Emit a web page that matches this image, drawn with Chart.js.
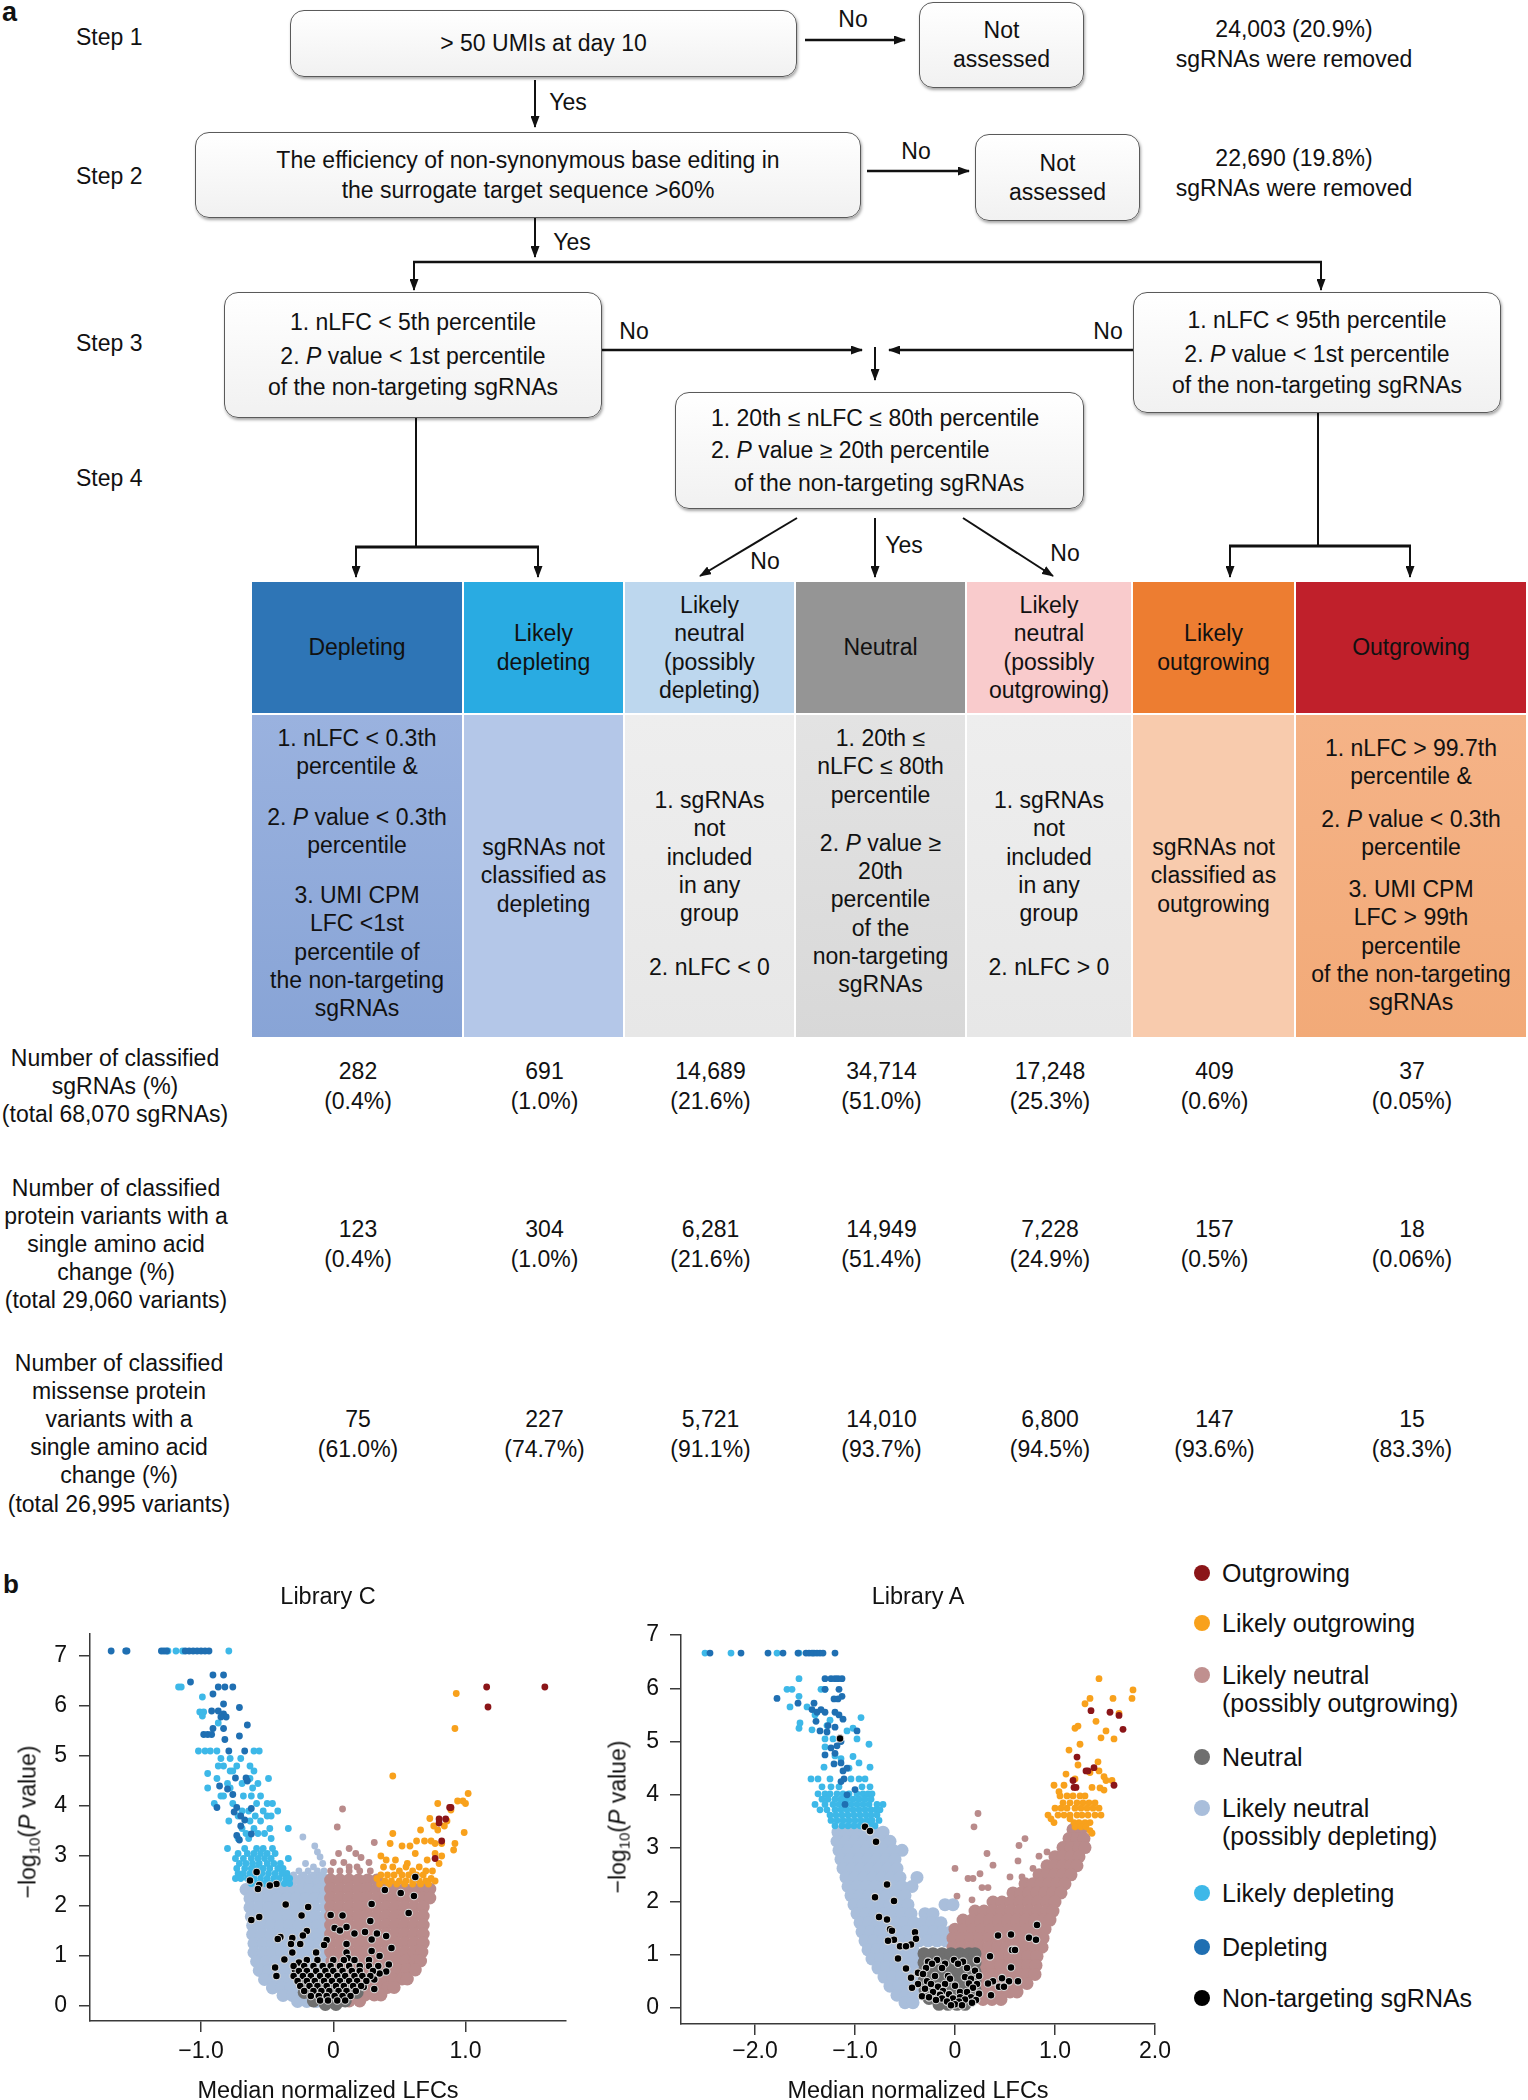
<!DOCTYPE html>
<html>
<head>
<meta charset="utf-8">
<title>sgRNA classification</title>
<script src="https://cdn.jsdelivr.net/npm/chart.js@4.4.1/dist/chart.umd.min.js"></script>
<style>
  html, body { margin: 0; padding: 0; }
  body { width: 1528px; height: 2100px; overflow: hidden; position: relative; background: #fff; color: #111;
         font-family: "Liberation Sans", Arial, Helvetica, sans-serif; }
  .c { position: absolute; transform: translate(-50%, -50%); white-space: nowrap; font-size: 23px; line-height: 28px; text-align: center; }
  .l { position: absolute; transform: translateY(-50%); white-space: nowrap; font-size: 23px; line-height: 28px; }
  .box { position: absolute; box-sizing: border-box; border: 1.5px solid #5a5a5a; border-radius: 14px;
         background: linear-gradient(#ffffff, #f1f1f1); box-shadow: 1px 2px 3px rgba(0,0,0,0.35);
         display: flex; flex-direction: column; justify-content: center; align-items: center; text-align: center;
         font-size: 23px; white-space: nowrap; }
  .panel { position: absolute; font-weight: bold; line-height: 1; }
  .hcell, .bcell { position: absolute; box-sizing: border-box; text-align: center; font-size: 23px; line-height: 28.3px; }
  .hcell { display: flex; align-items: center; justify-content: center; }
  .bcell p { margin: 0; }
  canvas { position: absolute; }
  .ytitle { position: absolute; transform: translate(-50%, -50%) rotate(-90deg); white-space: nowrap; font-size: 23px; }
  .ytitle sub { font-size: 15px; vertical-align: -4px; line-height: 0; }
  .dot { position: absolute; width: 16px; height: 16px; border-radius: 50%; transform: translate(-50%, -50%); }
  .leg { position: absolute; font-size: 25px; line-height: 28px; white-space: nowrap; }
</style>
</head>
<body>

<div class="panel" style="left:2px;top:-1px;font-size:27px">a</div>

<!-- flow chart -->
<svg width="1528" height="600" style="position:absolute;left:0;top:0">
  <defs>
    <marker id="ah" markerWidth="12" markerHeight="9" refX="11" refY="4.5" orient="auto" markerUnits="userSpaceOnUse">
      <path d="M0,0 L12,4.5 L0,9 z" fill="#111"/>
    </marker>
  </defs>
  <g stroke="#111" stroke-width="2" fill="none">
    <line x1="805" y1="40" x2="905" y2="40" stroke-width="2.5" marker-end="url(#ah)"/>
    <line x1="535" y1="80" x2="535" y2="127" marker-end="url(#ah)"/>
    <line x1="867" y1="171" x2="969" y2="171" stroke-width="2.5" marker-end="url(#ah)"/>
    <line x1="535" y1="218" x2="535" y2="257" marker-end="url(#ah)"/>
    <line x1="413" y1="262" x2="1322" y2="262" stroke-width="2.5"/>
    <line x1="414" y1="262" x2="414" y2="290" marker-end="url(#ah)"/>
    <line x1="1321" y1="262" x2="1321" y2="290" marker-end="url(#ah)"/>
    <line x1="602" y1="350" x2="862" y2="350" stroke-width="2.5" marker-end="url(#ah)"/>
    <line x1="1133" y1="350" x2="889" y2="350" stroke-width="2.5" marker-end="url(#ah)"/>
    <line x1="875" y1="347" x2="875" y2="380" marker-end="url(#ah)"/>
    <line x1="416" y1="418" x2="416" y2="547"/>
    <line x1="355" y1="547" x2="539" y2="547" stroke-width="3"/>
    <line x1="356" y1="547" x2="356" y2="577" marker-end="url(#ah)"/>
    <line x1="538" y1="547" x2="538" y2="577" marker-end="url(#ah)"/>
    <line x1="1318" y1="413" x2="1318" y2="546"/>
    <line x1="1229" y1="546" x2="1411" y2="546" stroke-width="3"/>
    <line x1="1230" y1="546" x2="1230" y2="577" marker-end="url(#ah)"/>
    <line x1="1410" y1="546" x2="1410" y2="577" marker-end="url(#ah)"/>
    <line x1="797" y1="518" x2="700" y2="576" marker-end="url(#ah)"/>
    <line x1="875" y1="518" x2="875" y2="577" marker-end="url(#ah)"/>
    <line x1="963" y1="518" x2="1053" y2="576" marker-end="url(#ah)"/>
  </g>
</svg>

<div class="l" style="left:76px;top:37px">Step 1</div>
<div class="l" style="left:76px;top:176px">Step 2</div>
<div class="l" style="left:76px;top:343px">Step 3</div>
<div class="l" style="left:76px;top:478px">Step 4</div>

<div class="box" style="left:290px;top:10px;width:507px;height:67px"><div>&gt; 50 UMIs at day 10</div></div>
<div class="box" style="left:919px;top:2px;width:165px;height:86px;line-height:29px"><div>Not</div><div>assessed</div></div>
<div class="box" style="left:195px;top:132px;width:666px;height:86px;line-height:30px"><div>The efficiency of non-synonymous base editing in</div><div>the surrogate target sequence &gt;60%</div></div>
<div class="box" style="left:975px;top:134px;width:165px;height:87px;line-height:29px"><div>Not</div><div>assessed</div></div>
<div class="box" style="left:224px;top:292px;width:378px;height:126px;line-height:31px">
  <div style="margin-bottom:3px">1. nLFC &lt; 5th percentile</div>
  <div>2. <i>P</i> value &lt; 1st percentile</div>
  <div>of the non-targeting sgRNAs</div>
</div>
<div class="box" style="left:1133px;top:292px;width:368px;height:121px;line-height:31px">
  <div style="margin-bottom:3px">1. nLFC &lt; 95th percentile</div>
  <div>2. <i>P</i> value &lt; 1st percentile</div>
  <div>of the non-targeting sgRNAs</div>
</div>
<div class="box" style="left:675px;top:392px;width:409px;height:117px;line-height:32.5px;align-items:flex-start;text-align:left;padding-left:35px">
  <div>1. 20th &le; nLFC &le; 80th percentile</div>
  <div>2. <i>P</i> value &ge; 20th percentile</div>
  <div style="padding-left:23px">of the non-targeting sgRNAs</div>
</div>

<div class="c" style="left:1294px;top:29px">24,003 (20.9%)</div>
<div class="c" style="left:1294px;top:59px">sgRNAs were removed</div>
<div class="c" style="left:1294px;top:158px">22,690 (19.8%)</div>
<div class="c" style="left:1294px;top:188px">sgRNAs were removed</div>

<div class="c" style="left:853px;top:19px">No</div>
<div class="c" style="left:568px;top:102px">Yes</div>
<div class="c" style="left:916px;top:151px">No</div>
<div class="c" style="left:572px;top:242px">Yes</div>
<div class="c" style="left:634px;top:331px">No</div>
<div class="c" style="left:1108px;top:331px">No</div>
<div class="c" style="left:765px;top:561px">No</div>
<div class="c" style="left:904px;top:545px">Yes</div>
<div class="c" style="left:1065px;top:553px">No</div>

<div id="table"></div>

<!-- panel b -->
<canvas id="libC" width="600" height="520" style="left:0px;top:1600px"></canvas>
<canvas id="libA" width="580" height="520" style="left:600px;top:1600px"></canvas>

<div class="panel" style="left:3px;top:1571px;font-size:26px">b</div>
<div class="c" style="left:328px;top:1596px;font-size:23.5px">Library C</div>
<div class="c" style="left:918px;top:1596px;font-size:23.5px">Library A</div>
<div class="ytitle" style="left:28px;top:1822px">&minus;log<sub>10</sub>(<i>P</i> value)</div>
<div class="ytitle" style="left:618px;top:1817px">&minus;log<sub>10</sub>(<i>P</i> value)</div>
<div id="legend"></div>

<script>
// ---------- table data ----------
const categories = [
  "Depleting", "Likely\ndepleting", "Likely\nneutral\n(possibly\ndepleting)", "Neutral",
  "Likely\nneutral\n(possibly\noutgrowing)", "Likely\noutgrowing", "Outgrowing",
];
const criteria = [
  [["1. nLFC < 0.3th", "percentile &"], ["2. <i>P</i> value < 0.3th", "percentile"], ["3. UMI CPM", "LFC <1st", "percentile of", "the non-targeting", "sgRNAs"]],
  [["sgRNAs not", "classified as", "depleting"]],
  [["1. sgRNAs", "not", "included", "in any", "group"], ["2. nLFC < 0"]],
  [["1. 20th ≤", "nLFC ≤ 80th", "percentile"], ["2. <i>P</i> value ≥", "20th", "percentile", "of the", "non-targeting", "sgRNAs"]],
  [["1. sgRNAs", "not", "included", "in any", "group"], ["2. nLFC > 0"]],
  [["sgRNAs not", "classified as", "outgrowing"]],
  [["1. nLFC > 99.7th", "percentile &"], ["2. <i>P</i> value < 0.3th", "percentile"], ["3. UMI CPM", "LFC > 99th", "percentile", "of the non-targeting", "sgRNAs"]],
];
const rowLabels = [
  ["Number of classified", "sgRNAs (%)", "(total 68,070 sgRNAs)"],
  ["Number of classified", "protein variants with a", "single amino acid", "change (%)", "(total 29,060 variants)"],
  ["Number of classified", "missense protein", "variants with a", "single amino acid", "change (%)", "(total 26,995 variants)"],
];
const sgRNACounts = ["282", "691", "14,689", "34,714", "17,248", "409", "37"];
const sgRNAPct = ["(0.4%)", "(1.0%)", "(21.6%)", "(51.0%)", "(25.3%)", "(0.6%)", "(0.05%)"];
const variantCounts = ["123", "304", "6,281", "14,949", "7,228", "157", "18"];
const variantPct = ["(0.4%)", "(1.0%)", "(21.6%)", "(51.4%)", "(24.9%)", "(0.5%)", "(0.06%)"];
const missenseCounts = ["75", "227", "5,721", "14,010", "6,800", "147", "15"];
const missensePct = ["(61.0%)", "(74.7%)", "(91.1%)", "(93.7%)", "(94.5%)", "(93.6%)", "(83.3%)"];

// ---------- volcano data: each row is [y, x, x, ...] ----------
const yTicks = [0, 1, 2, 3, 4, 5, 6, 7];
const libC_xTicks = [-1, 0, 1];
const libA_xTicks = [-2, -1, 0, 1, 2];

const libC_outgrowing = [
  [6.38, 1.16, 1.6], [5.98, 1.17], [3.97, .88, .89], [3.74, .8, .85], [3.66, .8], [3.3, .82], [2.95, .77],
];
const libC_likelyOutgrowing = [
  [6.25, .93], [5.55, .92], [4.6, .45], [4.25, 1.02], [4.1, .94, .98], [4.05, .79, 1.0], [3.92, .89],
  [3.75, .73], [3.7, .86], [3.6, .76, .84], [3.52, .66, .79], [3.47, .99], [3.45, .45],
  [3.3, .63, .69, .74], [3.25, .43, .77, .82, .92], [3.2, .52, .58], [3.12, .91], [3.05, .62, .77],
  [3.0, .36, .82], [2.92, .4, .47, .71], [2.85, .56, .8], [2.78, .38, .45, .55, .65], [2.7, .5, .6, .7, .75],
  [2.62, .36, .41, .46, .52, .57, .63, .68], [2.55, .33, .74], [2.5, .39, .44, .5, .55, .6, .65, .7, .77],
  [2.44, .35, .42, .48, .54, .6, .66, .72],
];
const libC_depleting = [
  [7.1, -1.68, -1.57, -1.56, -1.3, -1.28, -1.26, -1.12, -1.09, -1.06, -1.03, -1.0, -.97, -.94],
  [6.62, -.91, -.83], [6.48, -1.08], [6.38, -.87, -.82, -.76], [6.24, -.91], [6.04, -.83], [5.97, -.71],
  [5.9, -.92, -.87], [5.84, -.83], [5.78, -.81, -.85], [5.62, -.65], [5.55, -.91, -.83], [5.43, -.98, -.95, -.92],
  [5.4, -.71], [5.33, -.82], [5.1, -.79, -.67], [4.56, -.74, -.66], [4.5, -.65], [4.4, -.86], [4.34, -.8],
  [4.23, -.76], [3.97, -.88, -.73], [3.95, -.62], [3.88, -.75], [3.8, -.7], [3.72, -.67], [3.6, -.7],
  [3.44, -.62], [3.41, -.73], [3.32, -.71],
];
const libC_likelyDepleting = [
  [7.1, -1.25, -1.19, -1.14, -.79], [6.38, -1.17, -1.15], [6.18, -.99], [5.88, -1.01, -.98], [5.8, -.99],
  [5.66, -.87], [5.1, -1.02, -.97, -.93, -.88, -.6, -.56], [4.95, -.85, -.78, -.7], [4.8, -.87, -.83, -.73, -.63],
  [4.7, -.78, -.76, -.6], [4.65, -.95], [4.55, -.88, -.63, -.49], [4.45, -.8, -.69, -.57], [4.36, -.95, -.78, -.61],
  [4.2, -.85, -.83, -.68, -.62, -.55], [4.05, -.9, -.76, -.58, -.5, -.46], [3.9, -.69, -.64, -.53, -.42],
  [3.8, -.72, -.59, -.5, -.47], [3.7, -.79, -.63, -.55], [3.55, -.34, -.69, -.6, -.48], [3.45, -.66, -.57, -.52],
  [3.35, -.72, -.64, -.47], [3.15, -.8, -.67, -.58, -.53, -.46], [3.05, -.72, -.65, -.6, -.55, -.5, -.44],
  [2.95, -.74, -.68, -.62, -.57, -.52, -.47, -.34], [2.85, -.71, -.66, -.61, -.56, -.5, -.45, -.4],
  [2.75, -.73, -.67, -.62, -.58, -.53, -.48, -.42, -.38], [2.65, -.72, -.68, -.63, -.59, -.54, -.49, -.44, -.39, -.35],
  [2.55, -.74, -.7, -.65, -.6, -.55, -.5, -.45, -.41, -.36, -.33], [2.45, -.62, -.57, -.52, -.47, -.42, -.37, -.33],
];
const libC_neutralDep = [
  [2.52, -.31, -.24, -.17, -.11, -.06],
  [2.33, -.66, -.6, -.53, -.46, -.39, -.32, -.25, -.18, -.11, -.06],
  [2.15, -.63, -.56, -.49, -.42, -.35, -.28, -.21, -.14, -.07],
  [1.97, -.63, -.56, -.49, -.42, -.35, -.28, -.21, -.14, -.06],
  [1.79, -.62, -.55, -.48, -.41, -.34, -.27, -.2, -.13, -.06],
  [1.61, -.61, -.54, -.47, -.4, -.33, -.26, -.19, -.12, -.05],
  [1.43, -.61, -.54, -.47, -.4, -.33, -.26, -.19, -.12, -.05],
  [1.25, -.6, -.53, -.46, -.39, -.32, -.25, -.18, -.11, -.05],
  [1.07, -.6, -.53, -.46, -.39, -.32, -.25, -.18, -.11, -.05],
  [.89, -.58, -.51, -.44, -.37, -.3, -.23, -.16, -.09],
  [.71, -.56, -.49, -.42, -.35, -.28, -.21, -.14],
  [.53, -.52, -.45, -.38, -.31, -.24, -.17],
  [.36, -.46, -.39, -.32, -.25, -.18],
  [.21, -.38, -.31, -.24, -.17],
  [.09, -.27, -.2, -.13],
];
const libC_neutralDepSparse = [
  [3.38, -.23], [3.2, -.14], [3.08, -.12], [2.98, -.1], [2.85, -.21, -.08], [2.78, -.15],
  [2.7, -.26, -.19, -.12, -.07], [2.62, -.3, -.22, -.15, -.09],
];
const libC_neutralOut = [
  [2.52, -.02, .05, .12, .19, .26, .33],
  [2.34, -.02, .05, .12, .19, .26, .33, .4, .47, .54, .61, .68, .73],
  [2.16, -.02, .05, .12, .19, .26, .33, .4, .47, .54, .61, .68, .73],
  [1.98, -.02, .05, .12, .19, .26, .33, .4, .47, .54, .61, .68],
  [1.8, -.02, .05, .12, .19, .26, .33, .4, .47, .54, .61, .68],
  [1.62, -.02, .05, .12, .19, .26, .33, .4, .47, .54, .61, .68],
  [1.44, -.02, .05, .12, .19, .26, .33, .4, .47, .54, .61, .68],
  [1.26, -.02, .05, .12, .19, .26, .33, .4, .47, .54, .61, .68],
  [1.08, -.02, .05, .12, .19, .26, .33, .4, .47, .54, .61, .67],
  [.9, -.01, .06, .13, .2, .27, .34, .41, .48, .55, .62, .66],
  [.72, .0, .07, .14, .21, .28, .35, .42, .49, .56, .62],
  [.54, .03, .1, .17, .24, .31, .38, .45, .52, .56],
  [.37, .06, .13, .2, .27, .34, .41, .46],
  [.22, .1, .17, .24, .31, .36],
  [.1, .05, .12, .2],
];
const libC_neutralOutSparse = [
  [3.94, .07], [3.58, .03], [3.27, .31], [3.15, .12], [3.05, .04, .17], [2.97, .21], [2.87, .0, .08, .27],
  [2.78, .12, .18], [2.7, -.02, .05, .12, .2, .28],
];
const libC_neutral = [
  [.45, -.2, -.12, -.04, .04, .12], [.27, -.22, -.14, -.06, .02, .1, .18], [.1, -.15, -.07, .01, .09], [.03, -.06, .02],
];
const libC_nonTargeting = [
  [2.68, -.58], [2.58, .62], [2.51, -.63], [2.44, -.43], [2.42, -.56], [2.41, -.48], [2.34, -.57], [2.32, .39],
  [2.26, .51], [2.2, .61], [2.04, .29], [2.03, -.36], [1.98, -.19], [1.86, .57], [1.82, -.02], [1.81, -.24, .07],
  [1.78, -.56], [1.72, -.62], [1.7, .28], [1.58, .1], [1.56, .01], [1.51, .05], [1.5, -.2], [1.48, .24],
  [1.45, .16, .33], [1.41, -.23], [1.4, .4], [1.38, -.4], [1.36, -.31], [1.34, -.42], [1.33, .29], [1.32, -.05],
  [1.24, -.32, -.25, .1], [1.22, -.07], [1.16, .44], [1.1, .29], [1.07, -.31, -.13, .1], [1.0, .35], [.96, .11],
  [.93, -.37], [.87, -.26], [.83, .42], [.77, -.44], [.72, -.29], [.69, .4], [.65, .35], [.6, -.43], [.53, .31],
  [.38, .23], [.34, .31],
  [.92, -.2, -.12, .0, .08, .16, .27],
  [.8, -.3, -.22, -.15, -.08, -.02, .05, .12, .2, .27, .34],
  [.7, -.26, -.2, -.13, -.06, .0, .07, .14, .2, .3],
  [.6, -.3, -.23, -.17, -.1, -.04, .03, .09, .16, .22, .28],
  [.5, -.27, -.2, -.14, -.07, -.01, .05, .12, .18, .25],
  [.4, -.25, -.18, -.12, -.05, .02, .08, .15, .21],
  [.3, -.22, -.15, -.09, -.03, .04, .1, .17],
  [.2, -.17, -.11, -.05, .01, .07, .13],
  [.11, -.1, -.04, .03, .09],
];

const libA_outgrowing = [
  [5.58, 1.36], [5.55, 1.55], [5.49, 1.64], [5.23, 1.68], [4.71, 1.22], [4.45, 1.31, 1.33], [4.51, 1.39],
  [4.27, 1.18], [4.18, 1.59], [4.14, 1.21, 1.19],
];
const libA_likelyOutgrowing = [
  [6.18, 1.44], [5.97, 1.78], [5.81, 1.77, 1.58, 1.35], [5.71, 1.3], [5.53, 1.64], [5.38, 1.41], [5.29, 1.23],
  [5.25, 1.2], [5.2, 1.51], [5.07, 1.46], [5.05, 1.59], [4.95, 1.25], [4.84, 1.14], [4.62, 1.43], [4.56, 1.23],
  [4.45, 1.44], [4.42, 1.35], [4.39, 1.11], [4.34, 1.49], [4.3, 1.2], [4.27, 1.51, 1.57], [4.18, .99, 1.09],
  [4.14, 1.37], [4.13, 1.45], [4.09, 1.49], [4.06, 1.04],
  [3.98, 1.05, 1.12, 1.18, 1.25, 1.3], [3.85, 1.08, 1.15, 1.22, 1.28, 1.34, 1.4],
  [3.75, 1.0, 1.06, 1.12, 1.2, 1.26, 1.32, 1.38, 1.44], [3.62, .93, 1.03, 1.09, 1.15, 1.22, 1.27, 1.33, 1.4, 1.46],
  [3.55, .96, 1.15], [3.48, .99, 1.19, 1.24, 1.3, 1.35], [3.4, 1.2, 1.26, 1.31], [3.33, 1.35], [3.28, 1.37],
];
const libA_depleting = [
  [6.66, -2.45, -2.14, -1.87, -1.72, -1.57, -1.49, -1.46, -1.43, -1.41, -1.38, -1.35, -1.32, -1.2],
  [6.18, -1.3, -1.24, -1.2, -1.17, -1.13], [5.98, -1.16, -1.3], [5.85, -1.13], [5.81, -1.78], [5.8, -1.21, -1.17],
  [5.72, -1.57, -1.41], [5.6, -1.43, -1.34], [5.55, -1.38, -1.3, -1.2], [5.5, -1.16], [5.42, -1.12], [5.38, -1.39],
  [5.3, -1.27], [5.27, -1.2], [5.2, -1.35, -.98], [5.18, -1.28], [5.0, -1.14], [4.92, -1.18], [4.88, -1.24],
  [4.78, -1.2], [4.75, -1.3], [4.6, -1.14], [4.58, -1.21], [4.5, -1.08], [4.45, -1.12], [4.3, -1.11],
  [4.25, -1.14], [4.1, -1.0], [4.0, -1.08], [3.82, -1.1],
];
const libA_likelyDepleting = [
  [6.66, -2.5, -2.24, -1.78, -1.56], [6.18, -1.56], [5.98, -1.68, -1.63, -1.34, -1.3], [5.85, -1.56],
  [5.65, -1.65, -1.48], [5.5, -1.4], [5.45, -.94], [5.4, -1.25], [5.35, -1.55], [5.3, -1.28], [5.25, -1.56, -1.02],
  [5.22, -1.43], [5.2, -1.08], [5.05, -1.3, -1.22, -.98], [4.95, -.86], [4.9, -1.3], [4.73, -1.2], [4.68, -1.14],
  [4.72, -1.02], [4.6, -.96], [4.52, -1.31, -.85], [4.5, -1.06], [4.3, -1.44, -1.37, -1.25, -1.04, -.96, -.9],
  [4.15, -1.33, -1.24, -1.16, -.93, -.85],
  [4.02, -1.37, -1.3, -1.25, -1.18, -1.12, -1.06, -.98, -.92, -.87, -.83],
  [3.92, -1.33, -1.27, -1.2, -1.14, -1.08, -1.02, -.96, -.9, -.84],
  [3.82, -1.4, -1.3, -1.22, -1.16, -1.1, -1.04, -.98, -.92, -.86, -.78, -.72],
  [3.72, -1.35, -1.28, -1.2, -1.14, -1.08, -1.02, -.96, -.9, -.84, -.79, -.75],
  [3.62, -1.25, -1.19, -1.13, -1.07, -1.01, -.95, -.89, -.84, -.78],
  [3.52, -1.24, -1.18, -1.12, -1.06, -1.0, -.94, -.88, -.83, -.76],
  [3.42, -1.2, -1.13, -1.07, -1.01, -.95, -.9, -.85, -.8],
];
const libA_neutralDep = [
  [3.3, -1.17, -1.08, -.99, -.9, -.81, -.72],
  [3.13, -1.18, -1.09, -1.0, -.91, -.82, -.73, -.65],
  [2.96, -1.16, -1.07, -.98, -.89, -.8, -.71, -.62, -.53],
  [2.79, -1.14, -1.05, -.96, -.87, -.78, -.69, -.6],
  [2.62, -1.12, -1.03, -.94, -.85, -.76, -.67, -.58],
  [2.45, -1.09, -1.0, -.91, -.82, -.73, -.64, -.55, -.38],
  [2.28, -1.07, -.98, -.89, -.8, -.71, -.62, -.53, -.43],
  [2.11, -1.04, -.95, -.86, -.77, -.68, -.59, -.5],
  [1.94, -1.01, -.92, -.83, -.74, -.65, -.56, -.47, -.1, -.02],
  [1.77, -.98, -.89, -.8, -.71, -.62, -.53, -.44, -.3, -.22],
  [1.6, -.95, -.86, -.77, -.68, -.59, -.5, -.41, -.32, -.23, -.14],
  [1.43, -.93, -.84, -.75, -.66, -.57, -.48, -.39, -.3, -.21, -.12, -.04],
  [1.26, -.9, -.81, -.72, -.63, -.54, -.45, -.36, -.27, -.18, -.09, -.02],
  [1.09, -.87, -.78, -.69, -.6, -.51, -.42],
  [.92, -.83, -.74, -.65, -.56, -.47, -.4],
  [.75, -.77, -.68, -.59, -.5, -.42],
  [.58, -.71, -.62, -.53, -.44, -.4],
  [.41, -.65, -.56, -.47, -.4],
  [.24, -.58, -.49, -.41],
  [.1, -.5, -.42],
];
const libA_neutralOut = [
  [3.35, 1.18, 1.26], [3.18, 1.14, 1.22, 1.29], [3.01, 1.08, 1.16, 1.24, 1.3], [2.84, 1.0, 1.08, 1.16, 1.24],
  [2.67, .92, 1.0, 1.08, 1.16, 1.22], [2.5, .84, .92, 1.0, 1.08, 1.16], [2.33, .7, .78, .86, .94, 1.02, 1.1],
  [2.16, .58, .66, .74, .82, .9, .98, 1.06], [1.99, .38, .47, .56, .65, .74, .83, .92, 1.0],
  [1.82, .2, .29, .38, .47, .56, .65, .74, .83, .92, .98],
  [1.65, .08, .17, .26, .35, .44, .53, .62, .71, .8, .89, .95],
  [1.48, .0, .09, .18, .27, .36, .45, .54, .63, .72, .81, .9],
  [1.31, -.02, .07, .16, .25, .34, .43, .52, .61, .7, .79, .88],
  [1.14, -.02, .07, .16, .25, .34, .43, .52, .61, .7, .79, .87],
  [.97, .28, .37, .46, .55, .64, .73, .82], [.8, .28, .37, .46, .55, .64, .73, .81],
  [.63, .28, .37, .46, .55, .64, .73, .8], [.46, .28, .37, .46, .55, .64, .72],
  [.3, .28, .37, .46, .55, .62], [.16, .28, .37, .46],
];
const libA_neutralOutSparse = [
  [3.65, .23], [3.4, .19], [3.18, .7], [3.05, .64], [2.93, .92], [2.9, .32], [2.85, .84], [2.76, .63],
  [2.68, .38], [2.62, .0, .78], [2.52, .25], [2.46, .55, .67], [2.43, .13, .18], [2.26, .27, .33],
  [2.1, .02], [2.03, .17],
];
const libA_neutral = [
  [1.02, -.31, -.22, -.13, -.04, .05, .14, .2], [.85, -.31, -.22, -.13, -.04, .05, .14, .2],
  [.68, -.31, -.22, -.13, -.04, .05, .14, .2], [.51, -.31, -.22, -.13, -.04, .05, .14, .2],
  [.34, -.3, -.21, -.12, -.03, .06, .15, .2], [.18, -.26, -.17, -.08, .01, .1, .18], [.07, -.16, -.07, .02, .1],
];
const libA_nonTargeting = [
  [5.06, -1.15], [3.4, -.9], [3.32, -.85], [3.12, -.79], [2.32, -.68], [2.08, -.8], [2.01, -.61], [1.71, -.76],
  [1.66, -.68], [1.56, .82], [1.48, -.65], [1.45, -.63], [1.42, -.4], [1.38, .56], [1.36, .43], [1.32, .74],
  [1.3, -.39], [1.28, -.61, .81], [1.26, -.67], [1.19, -.44], [1.16, -.55, -.49], [1.09, .57, .6], [.97, .35],
  [.93, -.57], [.76, .56], [.74, -.49], [.66, -.37], [.57, -.44], [.56, .47], [.5, .38, .54, .63], [.46, .33],
  [.45, -.37], [.4, .44, .49], [.38, -.43], [.24, .36],
  [.9, -.18, .22, -.01], [.87, -.27, .08], [.83, -.23, -.1, .03], [.75, -.13, .12, -.29], [.7, .2], [.64, -.32],
  [.6, -.2, -.07, .24], [.58, .1], [.55, -.05, .16], [.5, -.28], [.46, .14], [.45, -.24, -.1, .22], [.42, .0],
  [.4, -.17], [.38, .18], [.36, -.3], [.32, -.12], [.3, -.22, .05, .12], [.27, .24], [.26, -.06], [.25, -.15],
  [.22, -.33], [.2, -.26, .05, .16], [.18, -.13, -.02], [.16, .1], [.15, -.19, .21], [.12, -.08, .04], [.1, .17],
  [.07, .0], [.05, -.04, .07],
];

// ---------- styles / layout ----------
const FONT = '"Liberation Sans", Arial, Helvetica, sans-serif';
const AXIS = "#3a3a3a";
const COL_X = [252, 464, 625, 796, 967, 1133, 1296, 1528];
const HEAD_BG = ["#2e75b6", "#29abe2", "#bdd7ee", "#959595", "#f9cbcc", "#ed7d31", "#c0202b"];
const BODY_BG = [
  "linear-gradient(#9ab2df, #88a4d6)", "#b4c7e8", "linear-gradient(#eeeeee, #e7e7e7)",
  "linear-gradient(#e3e3e3, #d8d8d8)", "linear-gradient(#eeeeee, #e7e7e7)", "#f8cbad",
  "linear-gradient(#f5b387, #f2aa78)",
];
const BODY_PAD = [9, 118, 71, 9, 71, 118, 19];
const PARA_GAP = [22, 0, 26, 20, 26, 0, 14];

const SERIES = [
  { key: "nonTargeting", label: "Non-targeting sgRNAs", color: "#000000", radius: 3.8, border: "rgba(225,225,225,0.95)", bw: 1.1 },
  { key: "outgrowing", label: "Outgrowing", color: "#8b1518", radius: 3.4 },
  { key: "depleting", label: "Depleting", color: "#1f6fb2", radius: 3.4 },
  { key: "likelyOutgrowing", label: "Likely outgrowing", color: "#f8a11c", radius: 3.4 },
  { key: "likelyDepleting", label: "Likely depleting", color: "#3db8e8", radius: 3.4 },
  { key: "neutralOutSparse", label: "Likely neutral (possibly outgrowing)", color: "#b98b8b", radius: 3.4 },
  { key: "neutralDepSparse", label: "Likely neutral (possibly depleting)", color: "#a9bedb", radius: 3.4 },
  { key: "neutral", label: "Neutral", color: "#6f6f6f", radius: 6.5 },
  { key: "neutralOut", label: "Likely neutral (possibly outgrowing)", color: "#b98b8b", radius: 6.5 },
  { key: "neutralDep", label: "Likely neutral (possibly depleting)", color: "#a9bedb", radius: 6.5 },
];
const LEGEND = [
  { label: "Outgrowing", color: "#8b1518", y: 1573 },
  { label: "Likely outgrowing", color: "#f8a11c", y: 1623 },
  { label: "Likely neutral<br>(possibly outgrowing)", color: "#c0908f", y: 1675 },
  { label: "Neutral", color: "#6f6f6f", y: 1757 },
  { label: "Likely neutral<br>(possibly depleting)", color: "#a9bedb", y: 1808 },
  { label: "Likely depleting", color: "#3db8e8", y: 1893 },
  { label: "Depleting", color: "#1f6fb2", y: 1947 },
  { label: "Non-targeting sgRNAs", color: "#000000", y: 1998 },
];

function lineHtml(s) {
  // keep <i> tags, escape bare comparison signs
  return s.replace(/<(?!\/?i>)/g, "&lt;").replace(/(^|[^i])>/g, "$1&gt;");
}

function addText(parent, cls, html, left, top) {
  const d = document.createElement("div");
  d.className = cls;
  d.innerHTML = html;
  d.style.left = left + "px";
  d.style.top = top + "px";
  parent.appendChild(d);
  return d;
}

function renderTable() {
  const root = document.getElementById("table");
  for (let i = 0; i < categories.length; i++) {
    const x = COL_X[i];
    const w = COL_X[i + 1] - x - 2;
    const h = document.createElement("div");
    h.className = "hcell";
    Object.assign(h.style, { left: x + "px", top: "582px", width: w + "px", height: "131px", background: HEAD_BG[i] });
    h.innerHTML = "<div>" + categories[i].split("\n").join("<br>") + "</div>";
    root.appendChild(h);

    const b = document.createElement("div");
    b.className = "bcell";
    Object.assign(b.style, { left: x + "px", top: "715px", width: w + "px", height: "322px", background: BODY_BG[i], paddingTop: BODY_PAD[i] + "px" });
    criteria[i].forEach((para, k) => {
      const p = document.createElement("p");
      if (k > 0) p.style.marginTop = PARA_GAP[i] + "px";
      p.innerHTML = para.map(lineHtml).join("<br>");
      b.appendChild(p);
    });
    root.appendChild(b);
  }

  const labelTop = [1058, 1188, 1363];
  const labelX = [115, 116, 119];
  const numTop = [1071, 1229, 1419];
  const counts = [[sgRNACounts, sgRNAPct], [variantCounts, variantPct], [missenseCounts, missensePct]];
  rowLabels.forEach((lines, r) => {
    lines.forEach((t, k) => addText(root, "c", t, labelX[r], labelTop[r] + k * 28.1));
    const [n, p] = counts[r];
    for (let i = 0; i < n.length; i++) {
      const cx = (COL_X[i] + COL_X[i + 1]) / 2;
      addText(root, "c", n[i], cx, numTop[r]);
      addText(root, "c", p[i], cx, numTop[r] + 30);
    }
  });
}

function renderLegend() {
  const root = document.getElementById("legend");
  for (const e of LEGEND) {
    const d = document.createElement("div");
    d.className = "dot";
    Object.assign(d.style, { left: "1202px", top: e.y + "px", background: e.color });
    root.appendChild(d);
    addText(root, "leg", e.label, 1222, e.y - 14);
  }
}

function rowsToPoints(rows) {
  const pts = [];
  for (const r of rows) for (let i = 1; i < r.length; i++) pts.push({ x: r[i], y: r[0] });
  return pts;
}
function fmtX(v) {
  if (v === 0) return "0";
  return (v < 0 ? "\u2212" : "") + Math.abs(v).toFixed(1);
}

function makeVolcano(canvasId, lib, xr, yr, xTicks, box) {
  const datasets = SERIES.filter((s) => lib[s.key]).map((s) => ({
    label: s.label,
    data: rowsToPoints(lib[s.key]),
    backgroundColor: s.color,
    borderColor: s.border || s.color,
    borderWidth: s.bw || 0,
    pointRadius: s.radius,
    pointHoverRadius: s.radius,
  }));
  const grid = { display: true, drawOnChartArea: false, drawTicks: true, tickLength: 11, color: AXIS, lineWidth: 1.5 };
  return new Chart(document.getElementById(canvasId), {
    type: "scatter",
    data: { datasets },
    options: {
      responsive: false,
      animation: false,
      events: [],
      layout: { padding: { left: 0, right: box.right, top: box.top, bottom: 0 } },
      plugins: { legend: { display: false }, tooltip: { enabled: false } },
      scales: {
        x: {
          type: "linear", min: xr[0], max: xr[1],
          afterBuildTicks: (s) => { s.ticks = xTicks.map((v) => ({ value: v })); },
          afterFit: (s) => { s.height = box.xh; },
          ticks: { callback: fmtX, font: { size: 23 }, color: "#111", padding: box.xPad, maxRotation: 0, autoSkip: false },
          grid, border: { display: true, color: AXIS, width: 1.5 },
          title: { display: true, text: "Median normalized LFCs", font: { size: 23.5 }, color: "#111", padding: { top: 0, bottom: 14 } },
        },
        y: {
          type: "linear", min: yr[0], max: yr[1],
          afterBuildTicks: (s) => { s.ticks = yTicks.map((v) => ({ value: v })); },
          afterFit: (s) => { s.width = box.yw; },
          ticks: { callback: (v) => String(v), font: { size: 23 }, color: "#111", padding: box.yPad, autoSkip: false },
          grid, border: { display: true, color: AXIS, width: 1.5 },
        },
      },
    },
  });
}

Chart.defaults.font.family = FONT;
Chart.defaults.color = "#111";

renderTable();
renderLegend();

makeVolcano("libC", {
  nonTargeting: libC_nonTargeting, outgrowing: libC_outgrowing, depleting: libC_depleting,
  likelyOutgrowing: libC_likelyOutgrowing, likelyDepleting: libC_likelyDepleting,
  neutralOutSparse: libC_neutralOutSparse, neutralDepSparse: libC_neutralDepSparse,
  neutral: libC_neutral, neutralOut: libC_neutralOut, neutralDep: libC_neutralDep,
}, [-1.84, 1.76], [-0.3, 7.44], libC_xTicks, { yw: 90, xh: 99, right: 34, top: 34, xPad: 6, yPad: 12 });

makeVolcano("libA", {
  nonTargeting: libA_nonTargeting, outgrowing: libA_outgrowing, depleting: libA_depleting,
  likelyOutgrowing: libA_likelyOutgrowing, likelyDepleting: libA_likelyDepleting,
  neutralOutSparse: libA_neutralOutSparse,
  neutral: libA_neutral, neutralOut: libA_neutralOut, neutralDep: libA_neutralDep,
}, [-2.74, 2.0], [-0.3, 7.0], libA_xTicks, { yw: 81, xh: 96, right: 25, top: 35, xPad: 3, yPad: 11 });
</script>
</body>
</html>
